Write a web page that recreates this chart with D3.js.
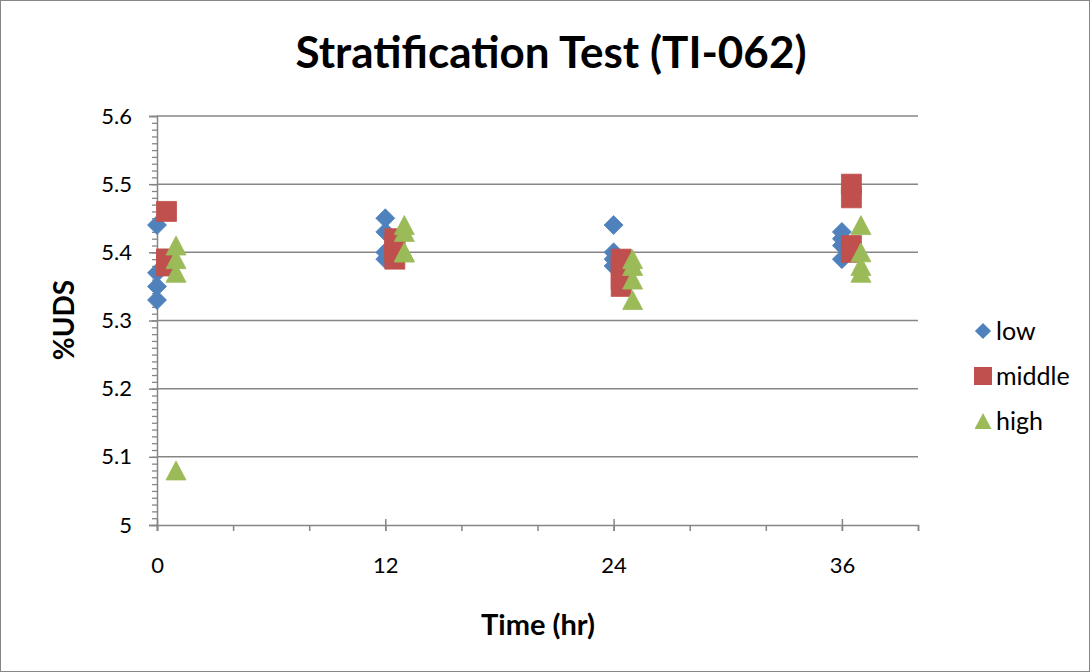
<!DOCTYPE html>
<html>
<head>
<meta charset="utf-8">
<script src="https://d3js.org/d3.v7.min.js"></script>
<style>
  body { margin: 0; background: #fff; }
  svg text { font-family: Lato, "Open Sans", sans-serif; fill: #000; }
</style>
</head>
<body>
<div id="chart"></div>
<script>
// data
const seriesNames = ['low', 'middle', 'high'];
const seriesColors = ['#4F81BD', '#C0504D', '#9BBB59'];

const lowX = [0, 0, 0, 0, 12, 12, 12, 12, 24, 24, 24, 24, 36, 36, 36, 36];
const lowY = [5.44, 5.37, 5.35, 5.33, 5.45, 5.43, 5.40, 5.39, 5.44, 5.40, 5.39, 5.38, 5.43, 5.42, 5.41, 5.39];

const middleX = [0.5, 0.5, 0.5, 0.5, 12.5, 12.5, 12.5, 12.5, 24.4, 24.4, 24.4, 24.4, 36.5, 36.5, 36.5, 36.5];
const middleY = [5.46, 5.39, 5.38, 5.39, 5.42, 5.41, 5.40, 5.39, 5.39, 5.38, 5.36, 5.35, 5.50, 5.48, 5.41, 5.40];

const highX = [1, 1, 1, 1, 13, 13, 13, 13, 25, 25, 25, 25, 37, 37, 37, 37];
const highY = [5.41, 5.39, 5.37, 5.08, 5.44, 5.43, 5.40, 5.40, 5.39, 5.38, 5.36, 5.33, 5.44, 5.40, 5.38, 5.37];

const xTickLabels = [0, 12, 24, 36];
const yTickLabels = [5, 5.1, 5.2, 5.3, 5.4, 5.5, 5.6];

const w = 1090, h = 672;
const plotLeft = 157, plotRight = 918, plotTop = 116, plotBottom = 525;
const grey = '#868686';

const svg = d3.select('#chart').append('svg')
    .attr('width', w)
    .attr('height', h);

// chart border
svg.append('rect')
    .attr('x', 0.5).attr('y', 0.5)
    .attr('width', w - 1).attr('height', h - 1)
    .attr('fill', '#fff')
    .attr('stroke', grey);

const x = d3.scaleLinear().domain([0, 40]).range([plotLeft, plotRight]);
const y = d3.scaleLinear().domain([5, 5.6]).range([plotBottom, plotTop]);

// gridlines
svg.append('g')
    .selectAll('line')
    .data(yTickLabels.filter(d => d > 5))
    .enter().append('line')
    .attr('x1', plotLeft).attr('x2', plotRight)
    .attr('y1', d => y(d)).attr('y2', d => y(d))
    .attr('stroke', grey)
    .attr('stroke-width', 1.5);

// y axis: minor ticks every 0.01, major every 0.1
const yMinor = d3.axisLeft(y).tickValues(d3.range(0, 61).map(i => 5 + i / 100))
    .tickSize(5).tickFormat('');
svg.append('g').attr('transform', 'translate(' + plotLeft + ',0)').call(yMinor)
    .call(g => g.select('.domain').remove())
    .selectAll('line').attr('stroke', grey).attr('stroke-width', 1.3);

const yAxis = d3.axisLeft(y).tickValues(yTickLabels).tickSize(8).tickPadding(17)
    .tickFormat(d => String(+d.toFixed(1)));
svg.append('g').attr('transform', 'translate(' + plotLeft + ',0)').call(yAxis)
    .call(g => g.select('.domain').attr('stroke', grey).attr('stroke-width', 1.5))
    .call(g => g.selectAll('line').attr('stroke', grey).attr('stroke-width', 1.5))
    .selectAll('text').style('font-size', '22px');

// x axis: minor ticks every 4 below, major ticks cross
const xMinor = d3.axisBottom(x).tickValues(d3.range(0, 41, 4)).tickSize(6).tickFormat('');
svg.append('g').attr('transform', 'translate(0,' + plotBottom + ')').call(xMinor)
    .call(g => g.select('.domain').attr('stroke', grey).attr('stroke-width', 1.5))
    .selectAll('line').attr('stroke', grey).attr('stroke-width', 1.5);

const xAxis = d3.axisBottom(x).tickValues(xTickLabels).tickSize(6).tickPadding(26);
svg.append('g').attr('transform', 'translate(0,' + plotBottom + ')').call(xAxis)
    .call(g => g.select('.domain').remove())
    .call(g => g.selectAll('line').attr('y1', -6).attr('stroke', grey).attr('stroke-width', 1.5))
    .selectAll('text').style('font-size', '22px');

// marker shapes
function markerPath(i) {
    if (i === 0) return 'M0,-9.5L9.5,0L0,9.5L-9.5,0Z';
    if (i === 1) return 'M-10,-10H10V10H-10Z';
    return 'M0,-9.5L10,9.5L-10,9.5Z';
}

const series = [
    lowX.map((v, i) => ({ x: v, y: lowY[i] })),
    middleX.map((v, i) => ({ x: v, y: middleY[i] })),
    highX.map((v, i) => ({ x: v, y: highY[i] }))
];

series.forEach((pts, si) => {
    svg.append('g')
        .selectAll('path')
        .data(pts)
        .enter().append('path')
        .attr('d', markerPath(si))
        .attr('transform', d => 'translate(' + x(d.x) + ',' + y(d.y) + ')')
        .attr('fill', seriesColors[si])
        .attr('stroke', seriesColors[si])
        .attr('stroke-width', 0.8);
});

// title
svg.append('text')
    .attr('x', 551).attr('y', 68)
    .attr('text-anchor', 'middle')
    .style('font-size', '44px').style('font-weight', 'bold')
    .text('Stratification Test (TI-062)');

// axis titles
svg.append('text')
    .attr('x', 538).attr('y', 635)
    .attr('text-anchor', 'middle')
    .style('font-size', '29px').style('font-weight', 'bold')
    .text('Time (hr)');

svg.append('text')
    .attr('transform', 'translate(74,320) rotate(-90)')
    .attr('text-anchor', 'middle')
    .style('font-size', '28px').style('font-weight', 'bold')
    .text('%UDS');

// legend
const legend = svg.append('g').selectAll('g')
    .data(seriesNames)
    .enter().append('g')
    .attr('transform', (d, i) => 'translate(983,' + (331 + i * 45) + ')');

legend.append('path')
    .attr('d', (d, i) => markerPath(i))
    .attr('transform', (d, i) => i === 1 ? 'scale(0.9)' : 'scale(0.85)')
    .attr('fill', (d, i) => seriesColors[i]);

legend.append('text')
    .attr('x', 13).attr('y', 9)
    .style('font-size', '25px')
    .text(d => d);
</script>
</body>
</html>
